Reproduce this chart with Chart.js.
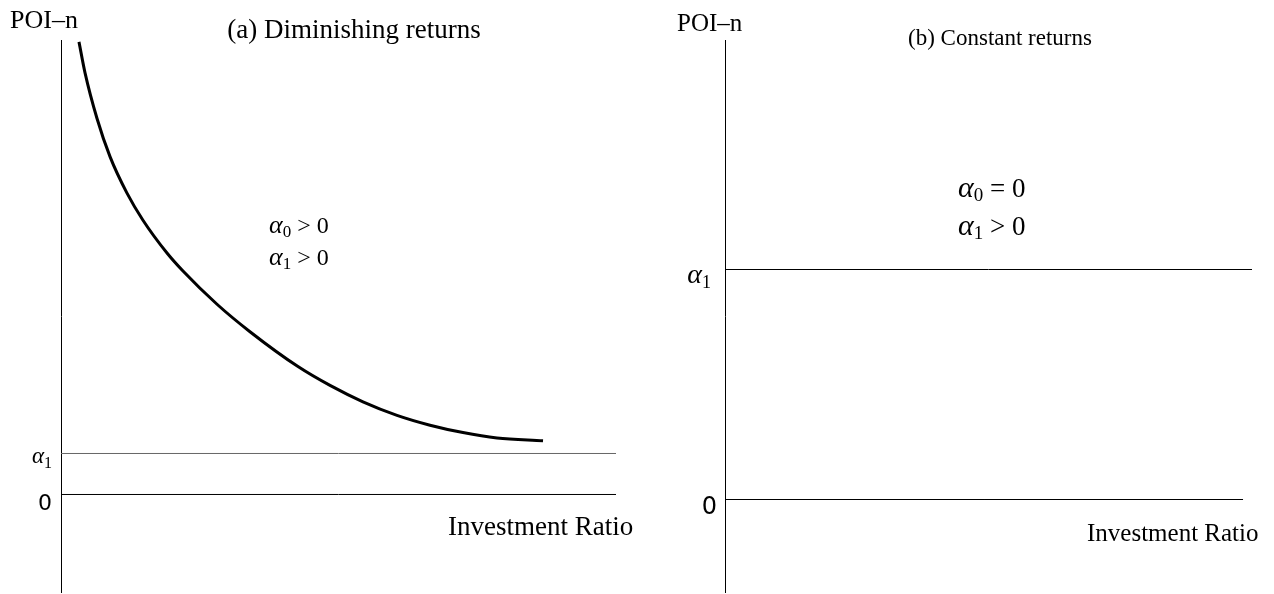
<!DOCTYPE html>
<html>
<head>
<meta charset="utf-8">
<script src="https://cdn.jsdelivr.net/npm/chart.js@4.4.0/dist/chart.umd.min.js"></script>
<style>
  html, body { margin: 0; padding: 0; background: #fff; }
  #wrap { position: relative; width: 1274px; height: 594px; }
  canvas { position: absolute; top: 0; }
</style>
</head>
<body>
<div id="wrap">
  <canvas id="chartA" width="637" height="594" style="left:0"></canvas>
  <canvas id="chartB" width="637" height="594" style="left:637px"></canvas>
</div>
<script>
// (a) diminishing returns - curve
const ratioA = [0.324, 0.432, 0.649, 0.883, 1.189, 1.477, 1.910, 2.198, 2.811, 3.405, 4.270, 4.847, 5.441, 6.054, 6.649, 7.243, 7.856, 8.685];
const poiA = [11.04, 10.29, 9.17, 8.24, 7.35, 6.69, 5.89, 5.45, 4.64, 3.97, 3.12, 2.66, 2.26, 1.93, 1.69, 1.51, 1.38, 1.31];
const levelsA = [0, 1];            // zero line, alpha1 floor
const spansA = [[0, 10], [0, 10]];

// (b) constant returns
const levelsB = [0, 1];
const spansB = [[0, 9.83], [0, 10]];

const tickValues = [0, 1];
const tickLabels = ["0", "α1"];

const SERIF = '"Liberation Serif", "Times New Roman", serif';
const SANS = '"DejaVu Sans", sans-serif';

// draws a run of text pieces, each piece may have its own font / vertical offset
function drawParts(ctx, x, y, parts, align) {
  let total = 0;
  parts.forEach(p => { ctx.font = p.font; total += ctx.measureText(p.t).width; });
  let cx = align === "right" ? x - total : x;
  ctx.textAlign = "left";
  ctx.textBaseline = "alphabetic";
  parts.forEach(p => {
    ctx.font = p.font;
    ctx.fillText(p.t, cx, y + (p.dy || 0));
    cx += ctx.measureText(p.t).width;
  });
}

function mathLabel(label, size, subSize) {
  if (label === "0") return [{ t: "0", font: size + "px " + SANS }];
  return [
    { t: label[0], font: "italic " + size + "px " + SERIF },
    { t: label.slice(1), font: subSize + "px " + SERIF, dy: 5 }
  ];
}

const notesPlugin = {
  id: "notes",
  afterDraw(chart) {
    const opts = chart.options.plugins.notes;
    if (!opts) return;
    const ctx = chart.ctx;
    const yScale = chart.scales.y;
    ctx.save();
    ctx.fillStyle = "#000";
    // tick labels left of the axis
    tickValues.forEach((v, i) => {
      const py = yScale.getPixelForValue(v);
      const t = opts.ticks[i];
      drawParts(ctx, chart.chartArea.left - t.gap, py + t.dy, mathLabel(tickLabels[i], t.size, t.sub), "right");
    });
    opts.texts.forEach(t => {
      ctx.font = t.font;
      ctx.textAlign = t.align || "left";
      ctx.textBaseline = "alphabetic";
      ctx.fillText(t.text, t.x, t.y);
    });
    opts.maths.forEach(m => drawParts(ctx, m.x, m.y, m.parts, "left"));
    ctx.restore();
  }
};

function flatLine(level, span, color) {
  return {
    data: span.map(x => ({ x: x, y: level })),
    borderColor: color,
    borderWidth: 1,
    pointRadius: 0,
    clip: false
  };
}

function cond(sub, op, size, greek) {
  return [
    { t: "α", font: "italic " + greek + "px " + SERIF },
    { t: sub, font: Math.round(size * 0.7) + "px " + SERIF, dy: 4 },
    { t: " " + op + " 0", font: size + "px " + SERIF }
  ];
}

function baseOptions(pad, yMin, yMax, notes) {
  return {
    responsive: false,
    animation: false,
    layout: { padding: pad },
    plugins: { legend: { display: false }, tooltip: { enabled: false }, notes: notes },
    scales: {
      x: { type: "linear", display: false, min: 0, max: 10 },
      y: {
        type: "linear", min: yMin, max: yMax,
        grid: { display: false, drawTicks: false },
        ticks: { display: false },
        border: { display: true, color: "#000", width: 1 }
      }
    }
  };
}

new Chart(document.getElementById("chartA"), {
  type: "line",
  data: {
    datasets: [
      flatLine(levelsA[0], spansA[0], "#000"),
      flatLine(levelsA[1], spansA[1], "#666"),
      {
        data: ratioA.map((x, i) => ({ x: x, y: poiA[i] })),
        borderColor: "#000",
        borderWidth: 3,
        pointRadius: 0,
        cubicInterpolationMode: "monotone",
        clip: false
      }
    ]
  },
  options: baseOptions({ left: 61, right: 21, top: 40, bottom: 2 }, -2.378, 11.085, {
    ticks: [{ gap: 9, dy: 15.5, size: 22 }, { gap: 9, dy: 9.5, size: 23, sub: 16 }],
    texts: [
      { text: "POI–n", x: 10, y: 28, font: "26px " + SERIF },
      { text: "(a) Diminishing returns", x: 354, y: 38, font: "27px " + SERIF, align: "center" },
      { text: "Investment Ratio", x: 448, y: 535, font: "27px " + SERIF }
    ],
    maths: [
      { x: 269, y: 233, parts: cond("0", ">", 24, 26) },
      { x: 269, y: 265, parts: cond("1", ">", 24, 26) }
    ]
  }),
  plugins: [notesPlugin]
});

new Chart(document.getElementById("chartB"), {
  type: "line",
  data: {
    datasets: [
      flatLine(levelsB[0], spansB[0], "#000"),
      flatLine(levelsB[1], spansB[1], "#000")
    ]
  },
  options: baseOptions({ left: 88, right: 22, top: 40, bottom: 2 }, -0.40217, 1.99783, {
    ticks: [{ gap: 8, dy: 14.5, size: 24 }, { gap: 14, dy: 13, size: 28, sub: 18 }],
    texts: [
      { text: "POI–n", x: 40, y: 31, font: "25px " + SERIF },
      { text: "(b) Constant returns", x: 363, y: 45, font: "23px " + SERIF, align: "center" },
      { text: "Investment Ratio", x: 450, y: 541, font: "25px " + SERIF }
    ],
    maths: [
      { x: 321, y: 197, parts: cond("0", "=", 27, 30) },
      { x: 321, y: 235, parts: cond("1", ">", 27, 30) }
    ]
  }),
  plugins: [notesPlugin]
});
</script>
</body>
</html>
